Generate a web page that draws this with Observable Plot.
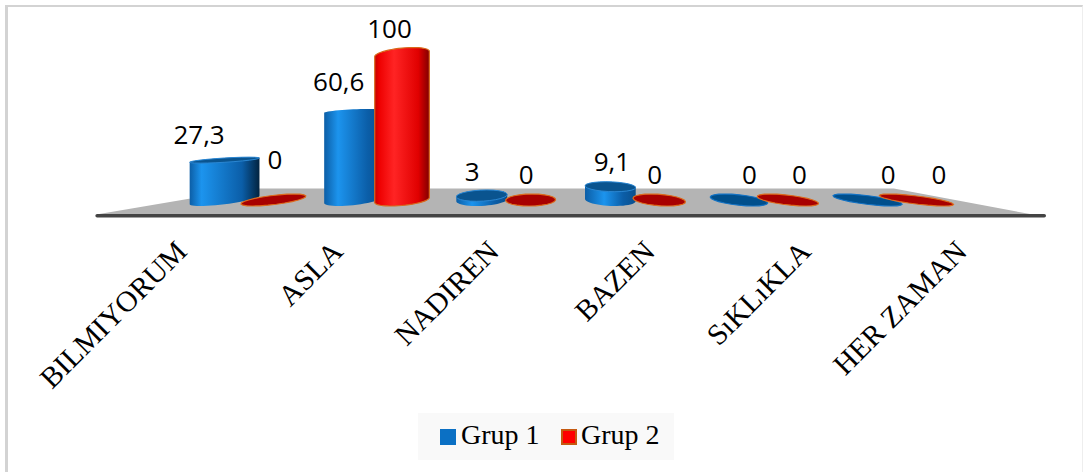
<!DOCTYPE html>
<html>
<head>
<meta charset="utf-8">
<script src="https://cdn.jsdelivr.net/npm/d3@7"></script>
<script src="https://cdn.jsdelivr.net/npm/@observablehq/plot@0.6"></script>
<style>
  html, body { margin: 0; padding: 0; background: #fff; }
  #frame { position: relative; width: 1084px; height: 472px; overflow: hidden; }
  #frame svg { position: absolute; left: 0; top: 0; }
  #edge { position: absolute; left: 5px; top: 5px; width: 1078px; height: 467px; box-sizing: border-box;
          border-left: 3px solid #d3d3d3; border-top: 2px solid #d3d3d3; border-right: 1px solid #eee; }
  #legend { position: absolute; left: 418px; top: 413px; width: 256px; height: 47px; background: #f9f9f9;
            font: 28px "Liberation Serif", serif; color: #000; }
  #legend span { position: absolute; top: 6px; white-space: nowrap; }
  #legend i { position: absolute; top: 16px; width: 16px; height: 16px; box-sizing: border-box; }
</style>
</head>
<body>
<div id="frame">
  <div id="edge"></div>
  <div id="legend">
    <i style="left:22px;background:#0b70c4"></i><span style="left:43px">Grup 1</span>
    <i style="left:143px;background:#ff0000;border:2px solid #c55a11"></i><span style="left:163px">Grup 2</span>
  </div>
</div>
<script>
// Responses per frequency category, in percent
const categories = ["BILMIYORUM", "ASLA", "NADIREN", "BAZEN", "SıKLıKLA", "HER ZAMAN"];
const grup1 = [27.3, 60.6, 3, 9.1, 0, 0];
const grup2 = [0, 100, 0, 0, 0, 0];
const valueText1 = ["27,3", "60,6", "3", "9,1", "0", "0"];
const valueText2 = ["0", "100", "0", "0", "0", "0"];

// Label nudges in pixels, per category
const labelDx1 = [-26, -15, -10, 1, 10, 20];
const labelDy1 = [-25, -29, -23, -25, -25, -25];
const labelDx2 = [1, -13, -5, -5, 11, 22];
const labelDy2 = [-40, -25, -25, -25, -25, -25];

// Ground plane and its front edge, in scale units
const floorX = [-1.18, 0.0, 5.01, 6.08];
const floorY = [-9.5, 8.2, 8.2, -9.5];
const baseX = [-1.185, 6.18];
const baseY = -10.4;

const groupOffset = 0.19;     // half the distance between the two bars of a category
const barHalfWidth = 0.194;   // cylinder radius along x
const vanishingX = 550;       // pixel column where the ellipses lie flat
const shearPerPixel = 0.075;

const rows = categories.flatMap((c, i) => [
  {i, group: 0, value: grup1[i], text: valueText1[i], dx: labelDx1[i], dy: labelDy1[i]},
  {i, group: 1, value: grup2[i], text: valueText2[i], dx: labelDx2[i], dy: labelDy2[i]}
]);
const pos = (d) => d.i + (d.group ? groupOffset : -groupOffset);

// Point on a sheared ellipse: the shear grows away from the vanishing column
const ellipsePoint = (cx, cy, a, s, b, t) => [cx + a * Math.cos(t) + s * Math.sin(t), cy + b * Math.sin(t)];
function arc(cx, cy, a, s, b, t0, t1) {
  return d3.range(25).map((k) => ellipsePoint(cx, cy, a, s, b, t0 + (t1 - t0) * k / 24));
}
const closed = (pts) => "M" + pts.map((p) => p.join(",")).join("L") + "Z";

// Cap flatness follows the height of the bar relative to the eye level
const capDepth = (v) => (v < 35 ? 6 - 0.11 * v : 0.1 * (v - 35));

// Draws each rect of the mark as a shaded cylinder standing on the floor
function cylinders(index, scales, values) {
  const g = d3.create("svg:g");
  const defs = g.append("defs");
  for (const n of index) {
    const d = rows[n];
    const x1 = values.x1[n], x2 = values.x2[n];
    const cx = (x1 + x2) / 2, a = (x2 - x1) / 2;
    const yBase = scales.y(0), yTop = scales.y(d.value);
    const s = shearPerPixel * (cx - vanishingX);
    const b0 = 6;
    const red = d.group === 1;
    if (d.value === 0) {
      g.append("path")
        .attr("d", closed(arc(cx, yBase, a, s, b0, 0, 2 * Math.PI)))
        .attr("fill", red ? "#a80000" : "#004f8c")
        .attr("stroke", red ? "#dd6a1c" : "#1272c4")
        .attr("stroke-width", 1.2);
      continue;
    }
    const bt = capDepth(d.value);
    const t1 = Math.atan2(s, a), t2 = t1 + Math.PI;
    const id = `cyl-${n}`;
    const lean = (cx - vanishingX) / 700;      // bars further left turn darker on their right side
    const highlight = Math.min(0.7, 0.46 + lean * 0.5);
    const stops = red
      ? [[0, "#c40000"], [0.08, "#ee0000"], [highlight, "#ff2424"], [0.8, "#e00000"], [1, "#800000"]]
      : [[0, "#0c5ea6"], [highlight * 0.75, "#1c94ee"], [0.75, "#0b5ea8"], [1, lean < -0.3 ? "#02233f" : "#0a4f8c"]];
    const gr = defs.append("linearGradient").attr("id", id);
    stops.forEach(([o, c]) => gr.append("stop").attr("offset", o).attr("stop-color", c));
    const body = [
      ...arc(cx, yTop, a, s, bt, t2, t1 + 2 * Math.PI),
      ...arc(cx, yBase, a, s, b0, t1, t2)
    ];
    g.append("path")
      .attr("d", closed(body))
      .attr("fill", `url(#${id})`)
      .attr("stroke", red ? "#d9691c" : "none")
      .attr("stroke-width", red ? 1.2 : 0);
    if (d.value < 35) {
      g.append("path")
        .attr("d", closed(arc(cx, yTop, a, s, bt, 0, 2 * Math.PI)))
        .attr("fill", "#0a548f")
        .attr("stroke", "#2a86d2")
        .attr("stroke-width", 1);
    }
  }
  return g.node();
}

const chart = Plot.plot({
  width: 1084,
  height: 472,
  margin: 0,
  style: {background: "transparent"},
  x: {domain: [0, 5], range: [249, 892], axis: null},
  y: {domain: [0, 100], range: [200, 54], axis: null},
  marks: [
    // Floor and its dark front edge
    Plot.line(floorX.map((x, k) => ({x, y: floorY[k]})), {x: "x", y: "y", fill: "#b4b4b4", stroke: "none"}),
    Plot.line(baseX.map((x) => ({x, y: baseY})), {x: "x", y: "y", stroke: "#444", strokeWidth: 3.5, strokeLinecap: "round"}),
    // Left bar of each category first, so that the red cylinders overlap the blue ones
    Plot.rect(rows, {
      x1: (d) => pos(d) - barHalfWidth,
      x2: (d) => pos(d) + barHalfWidth,
      y1: 0,
      y2: "value",
      render: cylinders
    }),
    // Value labels
    ...rows.map((d) => Plot.text([d], {
      x: pos, y: "value", text: "text", dx: d.dx, dy: d.dy,
      fontFamily: "Open Sans", fontSize: 26, fill: "#000"
    })),
    // Category labels run along the front edge, which is wider than the bar row
    Plot.text(categories, {
      x: (d, i) => -0.525 + 1.213 * i,
      y: 0,
      dy: 46,
      text: (d) => d,
      rotate: -45,
      textAnchor: "end",
      lineAnchor: "middle",
      fontFamily: "Liberation Serif",
      fontSize: 29.5,
      fill: "#000"
    })
  ]
});
document.getElementById("frame").appendChild(chart);
</script>
</body>
</html>
